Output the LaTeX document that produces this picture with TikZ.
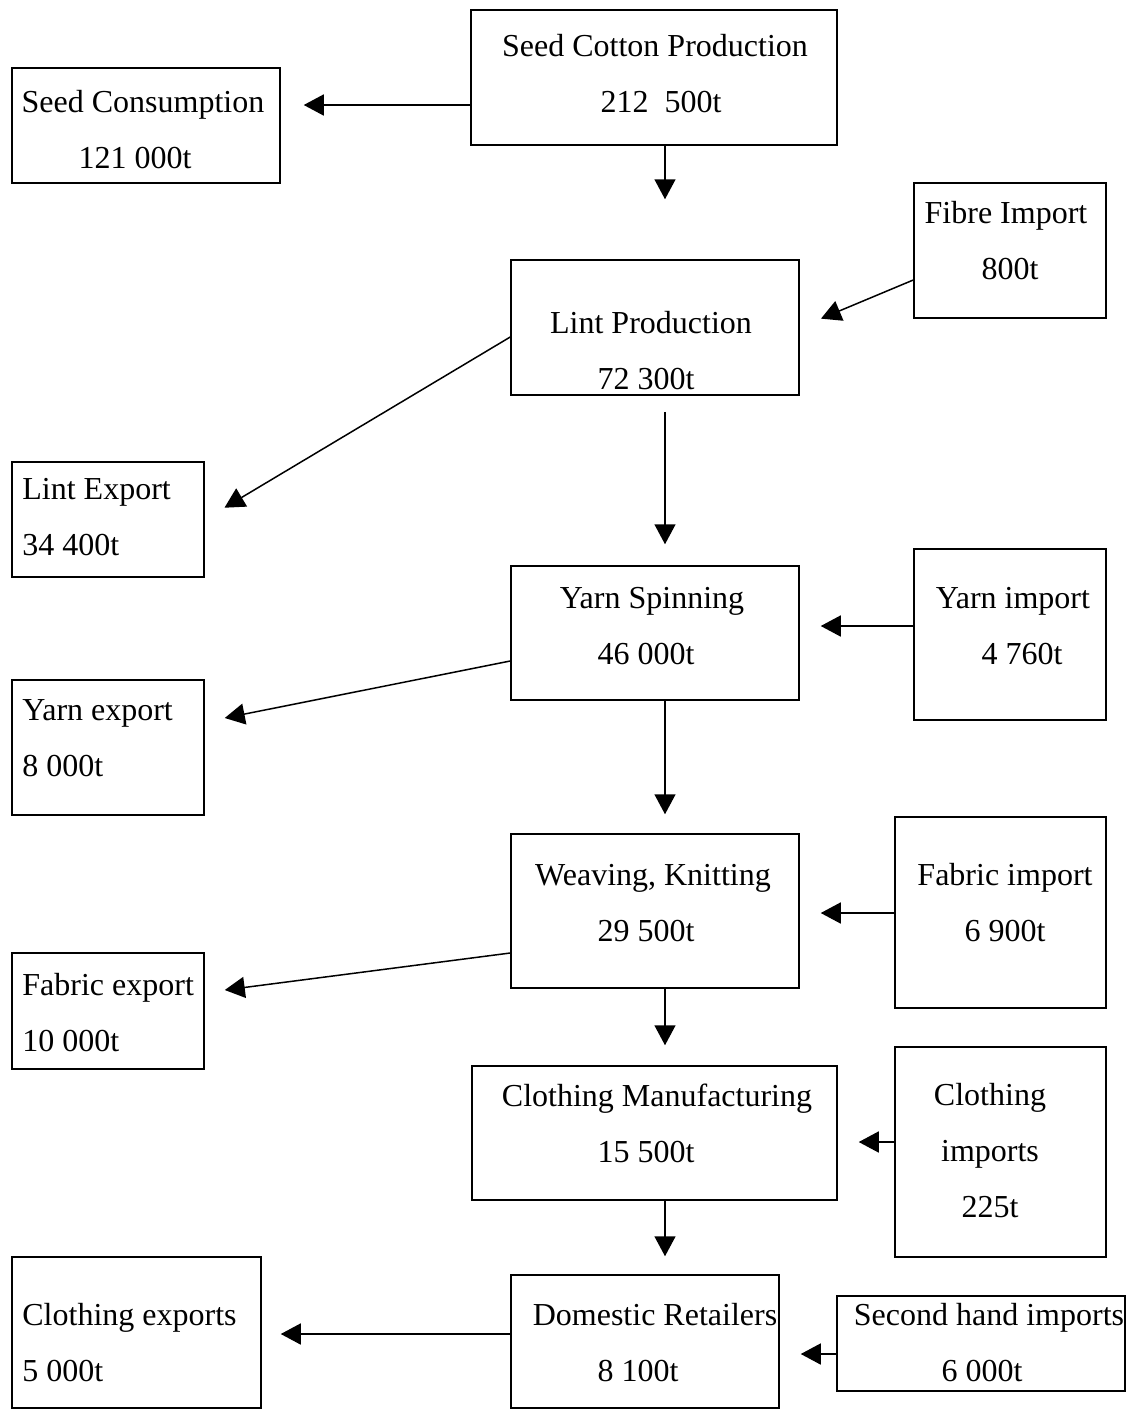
\documentclass[tikz,border=0pt]{standalone}
\usepackage{fontspec}
\setmainfont{Liberation Serif}
\usetikzlibrary{arrows.meta}
\newcommand{\nudge}[2]{\hspace*{#1}#2\hspace*{-#1}}

\begin{document}
\begin{tikzpicture}[
      x=0.5pt, y=-0.5pt,
      box/.style={draw, line width=0.75pt, inner sep=0pt},
      txt/.style={align=center, anchor=base, inner sep=0pt,
                  font=\fontsize{16}{28}\selectfont},
      ltxt/.style={txt, align=left, anchor=base west},
      arr/.style={-{Triangle[length=10pt, width=10.5pt]}, line width=0.75pt}
    ]
    \useasboundingbox (0,0) rectangle (1130,1410);

    % main chain
    \node[box, minimum width=183pt, minimum height=67.5pt] (seed) at (654,77.5) {};
    \node[txt] (seed-t) at (655,112) {Seed Cotton Production\\\nudge{3pt}{212\ \ 500t}};
    \node[box, minimum width=144pt, minimum height=67.5pt] (lint) at (655,327.5) {};
    \node[txt] (lint-t) at (651,389) {Lint Production\\\nudge{-2.5pt}{72 300t}};
    \node[box, minimum width=144pt, minimum height=67pt] (spin) at (655,633) {};
    \node[txt] (spin-t) at (652,664) {Yarn Spinning\\\nudge{-3pt}{46 000t}};
    \node[box, minimum width=144pt, minimum height=77pt] (weave) at (655,911) {};
    \node[txt] (weave-t) at (653,941) {Weaving, Knitting\\\nudge{-3.5pt}{29 500t}};
    \node[box, minimum width=182.5pt, minimum height=67pt] (cloth) at (654.5,1133) {};
    \node[txt] (cloth-t) at (657,1162) {Clothing Manufacturing\\\nudge{-5.5pt}{15 500t}};
    \node[box, minimum width=134pt, minimum height=66.5pt] (retail) at (645,1341.5) {};
    \node[txt] (retail-t) at (655,1381) {Domestic Retailers\\\nudge{-8.5pt}{8 100t}};

    % outflows
    \node[box, minimum width=134pt, minimum height=57.5pt] (cons) at (146,125.5) {};
    \node[txt] (cons-t) at (143,168) {Seed Consumption\\\nudge{-4pt}{121 000t}};
    \node[box, minimum width=96pt, minimum height=57.5pt] (lintexp) at (108,519.5) {};
    \node[ltxt] (lintexp-t) at (22,555) {Lint Export\\34 400t};
    \node[box, minimum width=96pt, minimum height=67.5pt] (yarnexp) at (108,747.5) {};
    \node[ltxt] (yarnexp-t) at (22,776) {Yarn export\\8 000t};
    \node[box, minimum width=96pt, minimum height=58pt] (fabexp) at (108,1011) {};
    \node[ltxt] (fabexp-t) at (22,1051) {Fabric export\\10 000t};
    \node[box, minimum width=124.5pt, minimum height=75.5pt] (clothexp) at (136.5,1332.5) {};
    \node[ltxt] (clothexp-t) at (22,1381) {Clothing exports\\5 000t};

    % inflows
    \node[box, minimum width=96pt, minimum height=67.5pt] (fibre) at (1010,250.5) {};
    \node[txt] (fibre-t) at (1006,279) {Fibre Import\\\nudge{2pt}{800t}};
    \node[box, minimum width=96pt, minimum height=85.5pt] (yarnimp) at (1010,634.5) {};
    \node[txt] (yarnimp-t) at (1013,664) {Yarn import\\\nudge{4.5pt}{4 760t}};
    \node[box, minimum width=105.5pt, minimum height=95.5pt] (fabimp) at (1000.5,912.5) {};
    \node[txt] (fabimp-t) at (1005,941) {Fabric import\\6 900t};
    \node[box, minimum width=105.5pt, minimum height=105pt] (clothimp) at (1000.5,1152) {};
    \node[txt] (clothimp-t) at (990,1217) {Clothing\\imports\\225t};
    \node[box, minimum width=144pt, minimum height=47.5pt] (second) at (981,1343.5) {};
    \node[txt] (second-t) at (989,1381) {Second hand imports\\\nudge{-3.5pt}{6 000t}};

    % flows down the chain
    \draw[arr, shorten >=30pt] (seed.south -| 665,0) -- (lint.north -| 665,0);
    \draw[arr, shorten <=8pt, shorten >=10.5pt] (lint.south -| 665,0) -- (spin.north -| 665,0);
    \draw[arr, shorten >=9.5pt] (spin.south -| 665,0) -- (weave.north -| 665,0);
    \draw[arr, shorten >=10pt] (weave.south -| 665,0) -- (cloth.north -| 665,0);
    \draw[arr, shorten >=9pt] (cloth.south -| 665,0) -- (retail.north -| 665,0);

    % exports
    \draw[arr, shorten >=11.5pt] (seed.west |- 0,105) -- (cons.east |- 0,105);
    \draw[arr, shorten >=11.5pt] (lint.west |- 0,337) -- (lintexp.east);
    \draw[arr, shorten >=10.2pt] (spin.west |- 0,661) -- (yarnexp.east |- 0,722);
    \draw[arr, shorten >=10.1pt] (weave.west |- 0,953) -- (fabexp.east |- 0,992.6);
    \draw[arr, shorten >=9.5pt] (retail.west |- 0,1334) -- (clothexp.east |- 0,1334);

    % imports
    \draw[arr, shorten >=11.5pt] (fibre.west |- 0,280) -- (lint.east);
    \draw[arr, shorten >=10.5pt] (yarnimp.west |- 0,626) -- (spin.east |- 0,626);
    \draw[arr, shorten >=10.5pt] (fabimp.west |- 0,913) -- (weave.east |- 0,913);
    \draw[arr, shorten >=10.5pt] (clothimp.west |- 0,1142) -- (cloth.east |- 0,1142);
    \draw[arr, shorten >=10.5pt] (second.west |- 0,1354) -- (retail.east |- 0,1354);
  \end{tikzpicture}
\end{document}
